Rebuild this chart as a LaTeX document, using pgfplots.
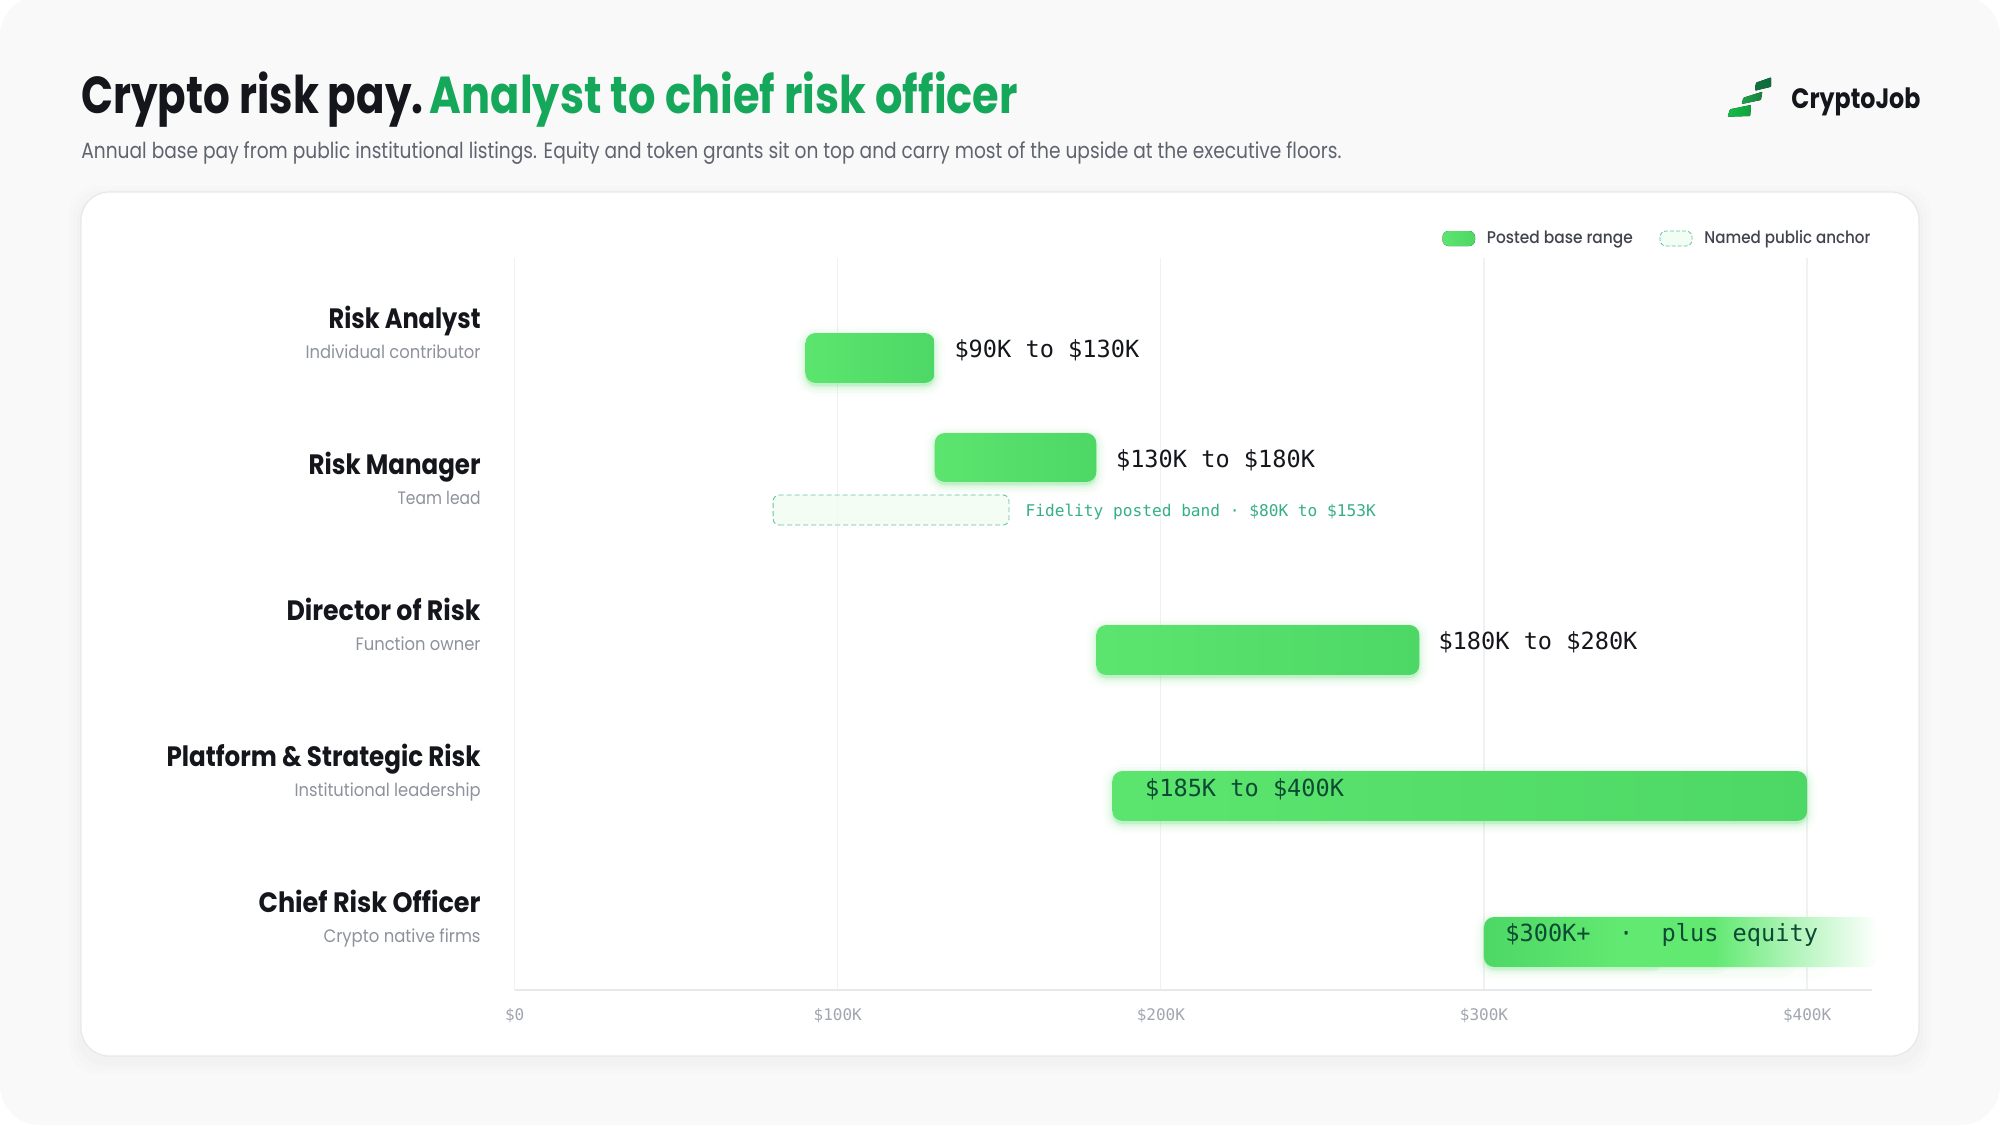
\documentclass[border=0pt]{standalone}
\usepackage{graphicx}
\usepackage{fontspec}
\usepackage{pgfplots}
\pgfplotsset{compat=1.18}
\usetikzlibrary{calc}
\setmainfont{Poppins}
\newfontfamily\mono{DejaVu Sans Mono}
\newfontfamily\med{Poppins Medium}
\newdimen\px \px=0.5pt
\definecolor{pagebg}{HTML}{F9F9FA}
\definecolor{ink}{HTML}{14161B}
\definecolor{titlegreen}{HTML}{15A85A}
\definecolor{subgrey}{HTML}{5F646F}
\definecolor{rowgrey}{HTML}{8D929C}
\definecolor{tickgrey}{HTML}{A0A5AF}
\definecolor{gridc}{HTML}{F0F1F3}
\definecolor{axisc}{HTML}{E6E8EA}
\definecolor{darkin}{HTML}{0C4A34}
\definecolor{anchorc}{HTML}{34B083}
\definecolor{legtext}{HTML}{41444F}
\definecolor{bA}{HTML}{5CE56E}
\definecolor{bB}{HTML}{61E971}
\definecolor{bC}{HTML}{4DD765}
\definecolor{glowc}{HTML}{55E06A}
\definecolor{lgA}{HTML}{12BE48}
\definecolor{lgB}{HTML}{1FA04A}
\definecolor{lgC}{HTML}{0D6B3C}
\pgfdeclarehorizontalshading{fadebar}{100bp}{color(0bp)=(bC); color(25bp)=(bC); color(42bp)=(bB); color(54bp)=(bB); color(63bp)=(bB!55!white); color(69bp)=(bB!28!white); color(75bp)=(white); color(100bp)=(white)}
\newcommand\fit[2]{\resizebox{#1\px}{\height}{#2}}
\newcommand\rowlab[4]{\parbox[c]{340\px}{\raggedleft\lineskiplimit=-100pt\baselineskip=15pt
  \rule{0pt}{10pt}\fit{#1}{\fontsize{14}{15}\selectfont\bfseries\color{ink}#2}\\
  \rule[-10pt]{0pt}{10pt}\fit{#3}{\fontsize{9}{15}\selectfont\color{rowgrey}#4}}}
% soft glow round a range: a, b, bottom, top (values as read)
\newcommand\glowlayer[6]{%
  \addplot[forget plot,draw=glowc,fill=glowc,line width=#5pt,line join=round,opacity=#6,rounded corners=5pt] coordinates {(#1,#3) (#2,#3) (#2,#4) (#1,#4)} --cycle;
}
\newcommand\glowbar[4]{%
  \glowlayer{#1}{#2}{#3}{#4}{10}{.025}
  \glowlayer{#1}{#2}{#3}{#4}{7}{.04}
  \glowlayer{#1}{#2}{#3}{#4}{4}{.06}
  \glowlayer{#1}{#2}{#3}{#4}{2}{.08}
}
\newcommand\rangebar[4]{%
  \addplot[forget plot,draw=none,left color=bA,middle color=bB,right color=bC,rounded corners=5pt] coordinates {(#1,#3) (#2,#3) (#2,#4) (#1,#4)} --cycle;
}
\begin{document}
\begin{tikzpicture}[x=0.5pt,y=-0.5pt]
\useasboundingbox (0,0) rectangle (2000,1125);
\fill[white] (0,0) rectangle (2000,1125);
\fill[pagebg,rounded corners=20pt] (0,-4) rectangle (2000,1125);
% card shadow and card
\foreach \w/\o in {12/.006,8/.008,4/.01}{
  \fill[black,opacity=\o,rounded corners=14pt] (81-\w,192-\w+6) rectangle (1919+\w,1056+\w+6);
}
\fill[white,draw=axisc,line width=0.6pt,rounded corners=14pt] (81,192) rectangle (1919,1056);

\begin{axis}[
  at={(257.35pt,-495pt)},anchor=south west,
  scale only axis,width=678.5pt,height=366pt,
  xmin=0,xmax=420,ymin=135,ymax=867,
  clip=false,no markers,
  axis x line*=bottom,axis y line*=left,
  x axis line style={draw=axisc,line width=0.75pt,-},
  y axis line style={draw=gridc,line width=0.6pt,-},
  xtick={0,100,200,300,400},
  xticklabels={\$0,\$100K,\$200K,\$300K,\$400K},
  xmajorgrids,grid style={draw=gridc,line width=0.6pt},
  major tick length=0pt,
  x tick label style={font=\mono\fontsize{8}{8}\selectfont,text=tickgrey,yshift=-9pt,inner sep=0pt},
  ytick={782.3,636.3,490.3,344.3,198.3},
  yticklabels={
    \rowlab{152}{Risk Analyst}{175}{Individual contributor},
    \rowlab{172}{Risk Manager}{83}{Team lead},
    \rowlab{194}{Director of Risk}{125}{Function owner},
    \rowlab{314}{Platform \& Strategic Risk}{186}{Institutional leadership},
    \rowlab{222}{Chief Risk Officer}{157}{Crypto native firms}},
  y tick label style={anchor=east,inner sep=0pt,xshift=-16.85pt},
]
% Risk Analyst 90-130
\glowbar{90}{130}{739}{789}
\rangebar{90}{130}{742}{792}
% Risk Manager 130-180
\glowbar{130}{180}{640}{689}
\rangebar{130}{180}{643}{692}
% Fidelity anchor 80-153
\addplot[forget plot,draw=anchorc!75,dash pattern=on 2.5pt off 1.5pt,line width=0.45pt,fill=bB!9!white,fill opacity=.8,rounded corners=3pt] coordinates {(80,600) (153,600) (153,630) (80,630)} --cycle;
% Director 180-280
\glowbar{180}{280}{447}{497}
\rangebar{180}{280}{450}{500}
% Platform & Strategic 185-400
\glowbar{185}{400}{301}{351}
\rangebar{185}{400}{304}{354}
% CRO 300+
\glowlayer{300}{405}{155}{205}{10}{.015}
\glowlayer{300}{395}{155}{205}{7}{.03}
\glowlayer{300}{375}{155}{205}{4}{.05}
\glowlayer{300}{355}{155}{205}{2}{.08}
\addplot[forget plot,draw=none,shading=fadebar,rounded corners=5pt] coordinates {(300,158) (422,158) (422,208) (300,208)} --cycle;
% Value labels
\newcommand\vallab[4]{\node[anchor=west,inner sep=0pt,text=#3,font=\mono\fontsize{11.8}{12}\selectfont] at (axis cs:#1,#2) {#4};}
\vallab{136}{774.5}{ink}{\$90K to \$130K}
\vallab{186}{665}{ink}{\$130K to \$180K}
\vallab{285.8}{482.4}{ink}{\$180K to \$280K}
\vallab{195}{336}{darkin}{\$185K to \$400K}
\vallab{306.5}{190}{darkin}{\$300K+\hspace{1.204em}·\hspace{1.204em}plus equity}
\node[anchor=west,inner sep=0pt,text=anchorc,font=\mono\fontsize{8.08}{8}\selectfont] at (axis cs:158,613.3) {Fidelity posted band · \$80K to \$153K};
\end{axis}

% Title block
\node[anchor=base west,inner sep=0pt] at (81,113) {\fit{342}{\fontsize{26}{26}\selectfont\bfseries\color{ink}Crypto risk pay.}};
\node[anchor=base west,inner sep=0pt] at (429.5,113) {\fit{588}{\fontsize{26}{26}\selectfont\bfseries\color{titlegreen}Analyst to chief risk officer}};
\node[anchor=base west,inner sep=0pt] at (81,158.5) {\fit{1260}{\fontsize{11}{11}\selectfont\color{subgrey}Annual base pay from public institutional listings. Equity and token grants sit on top and carry most of the upside at the executive floors.}};
% Logo
\fill[left color=lgA,right color=lgA!85!black,rounded corners=0.4pt] (1727.6,116.7) -- (1750.2,116) -- (1751,105) -- (1729.9,109.3) -- cycle;
\fill[left color=lgB!90!lgA,right color=lgB!80!black,rounded corners=0.4pt] (1741.7,104) -- (1760.9,100) -- (1762.4,91.7) -- (1743.3,97.7) -- cycle;
\fill[left color=lgC!85!lgB,right color=lgC,rounded corners=0.4pt] (1755.1,90.7) -- (1771.2,86.7) -- (1771.2,77.3) -- (1755.9,82.7) -- cycle;
\node[anchor=base west,inner sep=0pt] at (1791,108) {\fit{129}{\fontsize{14}{14}\selectfont\bfseries\color{ink}CryptoJob}};
% Legend
\fill[left color=bA,right color=bC,rounded corners=3pt] (1442.5,231) rectangle (1475,246);
\node[anchor=base west,inner sep=0pt] at (1486.5,243.5) {\fit{146}{\fontsize{8.5}{9}\selectfont\med\color{legtext}Posted base range}};
\draw[draw=anchorc!75,dash pattern=on 2pt off 1pt,line width=0.4pt,fill=bB!8!white,rounded corners=3pt] (1660,231) rectangle (1692,246);
\node[anchor=base west,inner sep=0pt] at (1704,243.5) {\fit{166}{\fontsize{8.5}{9}\selectfont\med\color{legtext}Named public anchor}};
\end{tikzpicture}
\end{document}
